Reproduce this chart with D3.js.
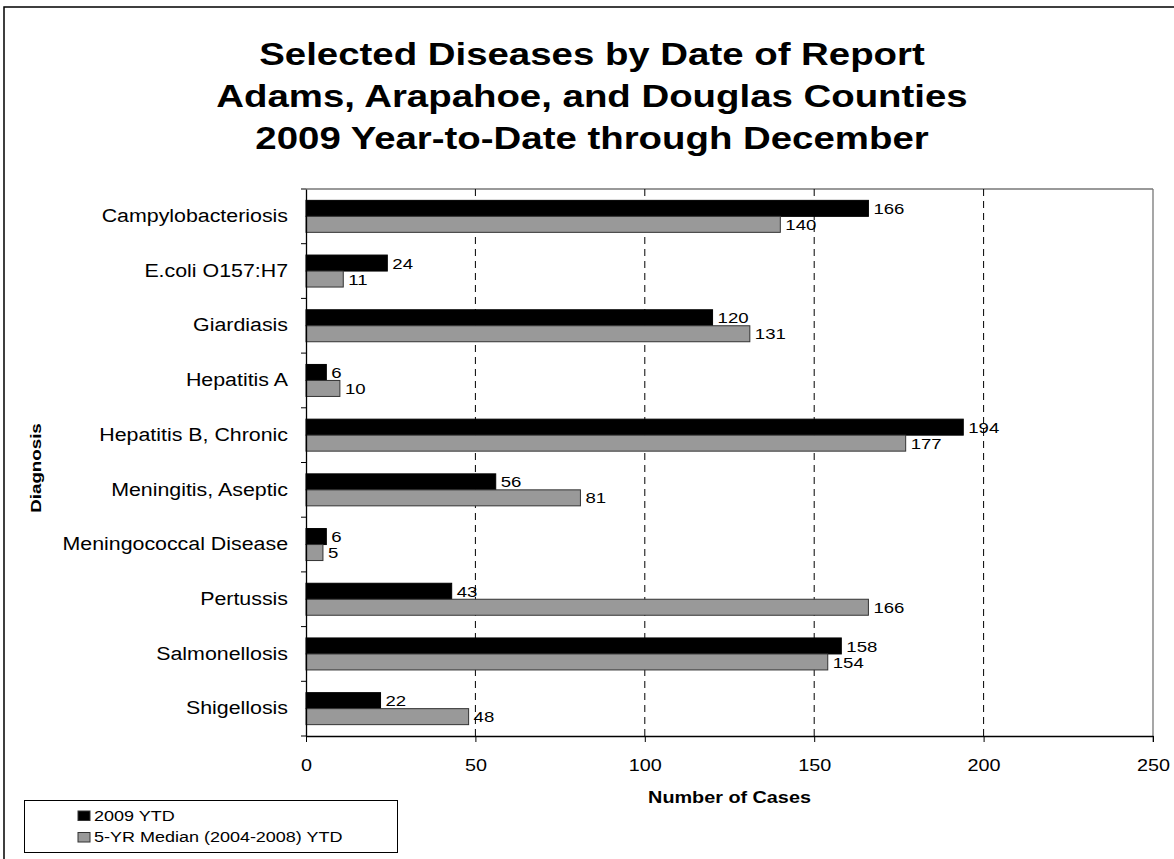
<!DOCTYPE html>
<html>
<head>
<meta charset="utf-8">
<script src="https://cdn.jsdelivr.net/npm/d3@7"></script>
<style>
  body { margin: 0; background: #fff; }
  svg { display: block; font-family: "Liberation Sans", Arial, sans-serif; }
</style>
</head>
<body>
<svg id="chart" width="1174" height="859"></svg>
<script>
// data
var diagnoses = ["Campylobacteriosis", "E.coli O157:H7", "Giardiasis", "Hepatitis A",
  "Hepatitis B, Chronic", "Meningitis, Aseptic", "Meningococcal Disease",
  "Pertussis", "Salmonellosis", "Shigellosis"];
var ytd2009 = [166, 24, 120, 6, 194, 56, 6, 43, 158, 22];
var median5yr = [140, 11, 131, 10, 177, 81, 5, 166, 154, 48];
var xTicks = [0, 50, 100, 150, 200, 250];
var seriesNames = ["2009 YTD", "5-YR Median (2004-2008) YTD"];
var seriesColors = ["#000000", "#999999"];
var titleLines = ["Selected Diseases by Date of Report",
  "Adams, Arapahoe, and Douglas Counties",
  "2009 Year-to-Date through December"];

// the original picture is stretched sideways a bit, so text is too
var SX = 1.2;

var svg = d3.select("#chart");
var pLeft = 306, pRight = 1153, pTop = 189, pBottom = 736;

function stext(parent, x, y, str, size, anchor, weight) {
  return parent.append("text")
    .attr("transform", "translate(" + x + "," + y + ") scale(" + SX + ",1)")
    .attr("text-anchor", anchor || "start")
    .style("font-size", size + "px")
    .style("font-weight", weight || "normal")
    .text(str);
}

// outer frame (right / bottom edges fall outside the picture)
svg.append("rect").attr("x", 4).attr("y", 7).attr("width", 1200).attr("height", 900)
  .attr("fill", "none").attr("stroke", "#000").attr("stroke-width", 1.5);

// title
titleLines.forEach(function (t, i) {
  stext(svg, 592, 65 + i * 42, t, 32, "middle", "bold");
});

var x = d3.scaleLinear().domain([0, 250]).range([pLeft, pRight]);
var y = d3.scaleBand().domain(diagnoses).range([pTop, pBottom]).padding(0);
var ySeries = d3.scaleBand().domain([0, 1]).range([0, y.bandwidth()])
  .paddingInner(0).paddingOuter(0.71);

// plot frame top + right
svg.append("line").attr("x1", pLeft).attr("x2", pRight).attr("y1", pTop).attr("y2", pTop)
  .attr("stroke", "#777").attr("stroke-width", 1.3);
svg.append("line").attr("x1", pRight).attr("x2", pRight).attr("y1", pTop).attr("y2", pBottom + 6)
  .attr("stroke", "#777").attr("stroke-width", 1.3);

// dashed grid
svg.append("g").selectAll("line")
  .data(xTicks.filter(function (d) { return d > 0 && d < 250; }))
  .enter().append("line")
  .attr("x1", function (d) { return x(d); })
  .attr("x2", function (d) { return x(d); })
  .attr("y1", pTop).attr("y2", pBottom)
  .attr("stroke", "#000").attr("stroke-width", 1)
  .attr("stroke-dasharray", "7,5");

// bars
var series = [ytd2009, median5yr];
series.forEach(function (vals, s) {
  var g = svg.append("g");
  g.selectAll("rect").data(vals).enter().append("rect")
    .attr("x", x(0))
    .attr("y", function (d, i) { return y(diagnoses[i]) + ySeries(s); })
    .attr("width", function (d) { return x(d) - x(0); })
    .attr("height", ySeries.bandwidth())
    .attr("fill", seriesColors[s])
    .attr("stroke", s === 0 ? "#000" : "#333")
    .attr("stroke-width", 1);
  vals.forEach(function (d, i) {
    stext(g, x(d) + 5, y(diagnoses[i]) + ySeries(s) + ySeries.bandwidth() / 2, d, 15.5)
      .attr("dy", "0.36em");
  });
});

// x axis
var xAxis = svg.append("g").attr("transform", "translate(0," + pBottom + ")")
  .call(d3.axisBottom(x).tickValues(xTicks).tickSize(6).tickSizeOuter(0));
xAxis.select(".domain").attr("stroke", "#000").attr("stroke-width", 1.3);
xAxis.selectAll(".tick line").attr("stroke", "#000");
xAxis.selectAll(".tick text")
  .attr("y", 0).attr("dy", null)
  .attr("transform", "translate(0,35) scale(" + SX + ",1)")
  .style("font-size", "16.5px").style("font-family", "inherit").attr("fill", "#000");

// y axis (labels from the axis, ticks at band edges)
var yAxis = svg.append("g").attr("transform", "translate(" + pLeft + ",0)")
  .call(d3.axisLeft(y).tickSize(0).tickPadding(0));
yAxis.select(".domain").attr("stroke", "#000").attr("stroke-width", 1.3);
yAxis.selectAll(".tick text")
  .attr("x", -18 / SX)
  .attr("transform", "scale(" + SX + ",1)")
  .style("font-size", "17.8px").style("font-family", "inherit").attr("fill", "#000");
var edges = diagnoses.map(function (d) { return y(d); }).concat([pBottom]);
svg.append("g").selectAll("line").data(edges).enter().append("line")
  .attr("x1", pLeft - 5).attr("x2", pLeft)
  .attr("y1", function (d) { return d; }).attr("y2", function (d) { return d; })
  .attr("stroke", "#000");

// axis titles
stext(svg, (pLeft + pRight) / 2, 803, "Number of Cases", 16.5, "middle", "bold");
svg.append("text")
  .attr("transform", "translate(41,468) rotate(-90) scale(1.25,1)")
  .attr("text-anchor", "middle")
  .style("font-size", "15px").style("font-weight", "bold")
  .text("Diagnosis");

// legend
var leg = svg.append("g");
leg.append("rect").attr("x", 24.5).attr("y", 800.5).attr("width", 373).attr("height", 52)
  .attr("fill", "#fff").attr("stroke", "#000").attr("stroke-width", 1);
seriesNames.forEach(function (nm, i) {
  var yy = 811 + i * 21.5;
  leg.append("rect").attr("x", 78).attr("y", yy).attr("width", 12).attr("height", 9.5)
    .attr("fill", seriesColors[i]).attr("stroke", "#333").attr("stroke-width", 1);
  stext(leg, 94, yy + 9.5, nm, 15);
});
</script>
</body>
</html>
